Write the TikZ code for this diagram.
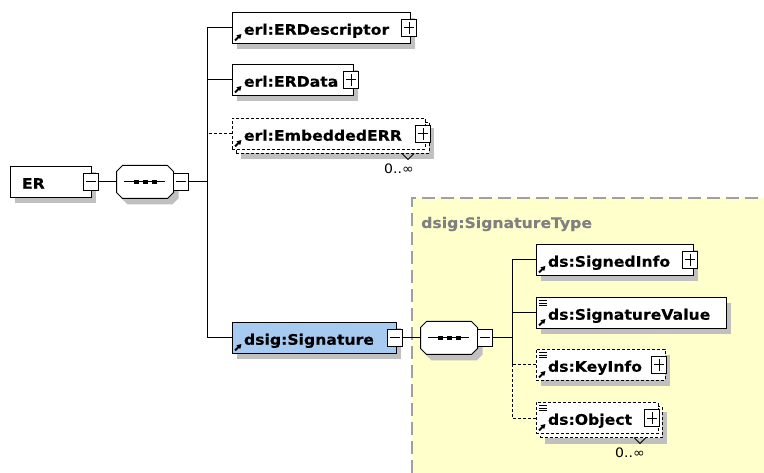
\documentclass[tikz,border=0pt]{standalone}
\usepackage{fontspec}
\usetikzlibrary{arrows.meta}
\usetikzlibrary{shadows}
\newfontfamily\elemfont{DejaVu Sans}[FakeStretch=1.08, BoldFeatures={FakeBold=0.3}]
\definecolor{typebg}{HTML}{FFFFCC}
\definecolor{typeline}{HTML}{A0A0A0}
\definecolor{typetext}{HTML}{808080}
\definecolor{refblue}{HTML}{A6CAF0}
\definecolor{shadegray}{HTML}{C0C0C0}

\tikzset{
  link/.style={line width=1pt},
  optlink/.style={link, dash pattern=on 3pt off 2pt},
  elem/.style={draw, fill=white, line width=1pt, anchor=west, outer sep=0pt,
    inner xsep=12pt, inner ysep=0pt, minimum height=31pt, text width=#1, align=left,
    text height=13.5pt, text depth=0pt,
    font=\elemfont\bfseries\fontsize{14.5pt}{17pt}\selectfont},
  solo/.style={drop shadow={shadow xshift=5pt, shadow yshift=-6pt, fill=shadegray, opacity=1}},
  many/.style={drop shadow={shadow xshift=9pt, shadow yshift=-10pt, fill=shadegray, opacity=1},
    copy shadow={shadow xshift=4pt, shadow yshift=-4pt, fill=white, draw, dash pattern=on 3pt off 2pt}},
  optional/.style={dash pattern=on 3pt off 2pt},
  refmark/.style={path picture={
    \draw[solid, line width=1.8pt, -{Triangle[length=4.5pt, width=5pt]}]
      ([shift={(3pt,3pt)}]path picture bounding box.south west) -- ++(6.5pt,6.5pt);}},
  textmark/.style={path picture={
    \draw[solid, line width=1.8pt, -{Triangle[length=4.5pt, width=5pt]}]
      ([shift={(3pt,3pt)}]path picture bounding box.south west) -- ++(6.5pt,6.5pt);
    \foreach \k in {3,5.5,8}
      \draw[solid, line width=0.9pt] ([shift={(3pt,-\k pt)}]path picture bounding box.north west) -- ++(8pt,0pt);}},
  toggle/.style={draw, fill=white, line width=1pt, minimum width=15pt, minimum height=17pt,
    inner sep=0pt, outer sep=0pt},
  minus/.style={toggle, path picture={
    \draw[line width=1pt] ([xshift=-5pt]path picture bounding box.center) -- ([xshift=5pt]path picture bounding box.center);}},
  plus/.style={toggle, path picture={
    \draw[line width=1pt] ([xshift=-5pt]path picture bounding box.center) -- ([xshift=5pt]path picture bounding box.center)
      ([yshift=-6pt]path picture bounding box.center) -- ([yshift=6pt]path picture bounding box.center);}},
  seq/.style={minimum width=57pt, minimum height=33pt, inner sep=0pt, outer sep=0pt},
  occurs/.style={anchor=north, inner sep=0pt, font=\elemfont\fontsize{13pt}{15pt}\selectfont},
  typelabel/.style={inner sep=0pt, text=typetext, font=\elemfont\bfseries\fontsize{14.5pt}{17pt}\selectfont}
}

% octagon of a sequence compositor, drawn round an empty node
\newcommand{\seqframe}[1]{%
  \draw[line width=1pt, fill=white, solo]
    ([xshift=6pt]#1.north west) -- ([xshift=-6pt]#1.north east) -- ([yshift=-6pt]#1.north east)
    -- ([yshift=6pt]#1.south east) -- ([xshift=-6pt]#1.south east) -- ([xshift=6pt]#1.south west)
    -- ([yshift=6pt]#1.south west) -- ([yshift=-6pt]#1.north west) -- cycle;
  \draw[line width=1pt] ([xshift=-21pt]#1.center) -- ([xshift=20pt]#1.center);
  \foreach \dx in {-9,0,9}
    \fill ([shift={(\dx pt-2.5pt,-2pt)}]#1.center) rectangle ++(5pt,4pt);}

\begin{document}
\begin{tikzpicture}[x=1pt, y=-1pt]
  \useasboundingbox (0,0) rectangle (764,473);
  % complex type area
  \fill[typebg] (412,198) rectangle (764,473);
  \draw[typeline, line width=1.5pt, dash pattern=on 13pt off 6pt] (412,473) -- (412,198) -- (764,198);
  \node[typelabel, anchor=base west] (sigtype) at (421,228) {dsig:SignatureType};

  % root element and sequence
  \node[elem=57pt, solo] (er) at (10,182) {ER};
  \node[minus] (erT) at (er.east) {};
  \node[seq] (seq1) at (145,182) {};
  \seqframe{seq1}
  \node[minus, anchor=west] (seq1T) at (seq1.east) {};
  \coordinate (bus1) at (207,182);

  \node[elem=154pt, solo, refmark] (desc) at (232,28) {erl:ERDescriptor};
  \node[plus] (descT) at ([xshift=-1pt]desc.east) {};
  \node[elem=97pt, solo, refmark] (data) at (232,80) {erl:ERData};
  \node[plus] (dataT) at ([xshift=-2pt]data.east) {};
  \node[elem=169pt, many, optional, refmark] (emb) at (232,134) {erl:EmbeddedERR};
  \node[plus] (embT) at ([xshift=-2pt]emb.east) {};
  \node[elem=140pt, solo, refmark, fill=refblue] (sig) at (232,338) {dsig:Signature};
  \node[minus] (sigT) at ([xshift=-1pt]sig.east) {};

  \coordinate (embTick) at ([shift={(-17pt,-4pt)}]emb.south east);
  \draw[line width=0.8pt] ([xshift=-6pt]embTick) -- ([yshift=-6pt]embTick) -- ([xshift=6pt]embTick);
  \node[occurs] (embOcc) at ([shift={(-9pt,-10pt)}]embTick) {0..∞};

  % signature sequence
  \node[seq] (seq2) at (449,338) {};
  \seqframe{seq2}
  \node[minus, anchor=west] (seq2T) at (seq2.east) {};
  \coordinate (bus2) at (512,338);

  \node[elem=133pt, solo, refmark] (sinfo) at (536,260) {ds:SignedInfo};
  \node[plus] (sinfoT) at ([xshift=-3pt]sinfo.east) {};
  \node[elem=166pt, solo, textmark] (sval) at (536,313) {ds:SignatureValue};
  \node[elem=105pt, solo, optional, textmark] (kinfo) at (536,365) {ds:KeyInfo};
  \node[plus] (kinfoT) at ([xshift=-6pt]kinfo.east) {};
  \node[elem=98pt, many, optional, textmark] (obj) at (536,418) {ds:Object};
  \node[plus] (objT) at ([xshift=-6pt]obj.east) {};

  \coordinate (objTick) at ([shift={(-18pt,-4pt)}]obj.south east);
  \draw[line width=0.8pt] ([xshift=-6pt]objTick) -- ([yshift=-6pt]objTick) -- ([xshift=6pt]objTick);
  \node[occurs] (objOcc) at ([shift={(-10pt,-10pt)}]objTick) {0..∞};

  % connectors
  \draw[link] (erT.east) -- (seq1.west);
  \draw[link] (seq1T.east) -- (bus1);
  \draw[link] (desc.west) -| (bus1);
  \draw[link] (data.west) -| (bus1);
  \draw[optlink] (emb.west) -| (bus1);
  \draw[link] (sig.west) -| (bus1);
  \draw[link] (sigT.east) -- (seq2.west);
  \draw[link] (seq2T.east) -- (bus2);
  \draw[link] (sinfo.west) -| (bus2);
  \draw[link] (sval.west) -| (bus2);
  \draw[optlink] (kinfo.west) -| (bus2);
  \draw[optlink] (obj.west) -| (bus2);
\end{tikzpicture}
\end{document}
